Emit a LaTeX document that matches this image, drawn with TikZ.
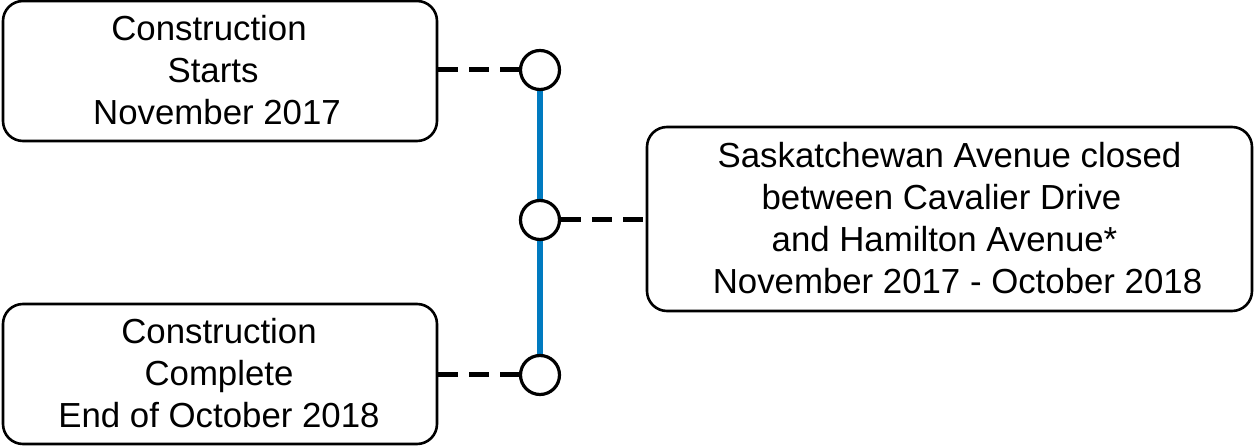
\documentclass[tikz,border=0pt]{standalone}
\usepackage{fontspec}
\setmainfont{Liberation Sans}
\definecolor{tlblue}{RGB}{0,122,192}
\begin{document}
\begin{tikzpicture}[x=1pt,y=-1pt,
  evbox/.style={draw=black,line width=2.6pt,rounded corners=20pt,fill=white,inner sep=0pt},
  evtext/.style={align=center,font=\fontsize{34.8}{42}\selectfont,inner sep=0pt},
  dot/.style={circle,draw=black,line width=3.2pt,fill=white,minimum size=39pt,inner sep=0pt},
  link/.style={line width=5pt,dash pattern=on 20pt off 11pt}]
\useasboundingbox (0,0) rectangle (1254,446);
\node[evbox,minimum width=434pt,minimum height=140pt] (b1) at (220,71) {};
\node[evbox,minimum width=434pt,minimum height=140pt] (b3) at (220,374) {};
\node[evbox,minimum width=605pt,minimum height=184pt] (b2) at (949.5,219) {};
\node[evtext] (t1) at (213,70) {Construction\rule{8pt}{0pt}\\Starts\\\rule{8pt}{0pt}November 2017};
\node[evtext] (t3) at (219,373) {Construction\\Complete\\End of October 2018};
\node[evtext] (t2) at (949.5,218) {Saskatchewan Avenue closed\\between Cavalier Drive\rule{16pt}{0pt}\\and Hamilton Avenue*\rule{10pt}{0pt}\\\rule{16pt}{0pt}November 2017 - October 2018};
\coordinate (top) at (540,70);
\coordinate (mid) at (540,220);
\coordinate (bot) at (540,375);
\draw[tlblue,line width=6pt] (top) -- (bot);
\node[dot] (c1) at (top) {};
\node[dot] (c2) at (mid) {};
\node[dot] (c3) at (bot) {};
\draw[link] (b1.east |- c1) -- (c1.west);
\draw[link] (b3.east |- c3) -- (c3.west);
\draw[link] (c2.east) -- (c2 -| b2.west);
\end{tikzpicture}
\end{document}
